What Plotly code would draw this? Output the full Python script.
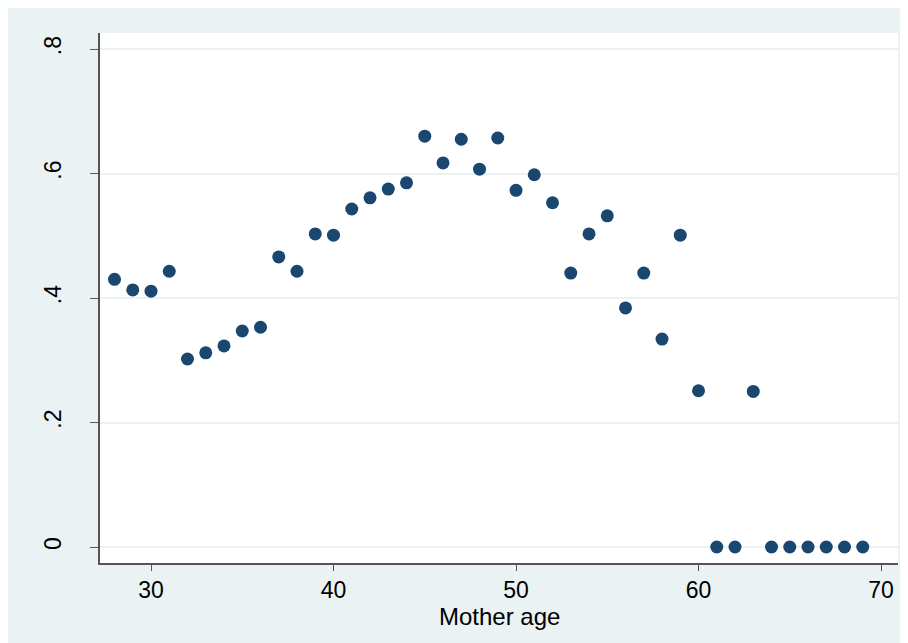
import plotly.graph_objects as go

mother_age = list(range(28, 70))
share = [0.430, 0.413, 0.411, 0.443, 0.302, 0.312, 0.323, 0.347, 0.353, 0.466,
         0.443, 0.503, 0.501, 0.543, 0.561, 0.575, 0.585, 0.660, 0.617, 0.655,
         0.607, 0.657, 0.573, 0.598, 0.553, 0.440, 0.503, 0.532, 0.384, 0.440,
         0.334, 0.501, 0.251, 0.0, 0.0, 0.25, 0.0, 0.0, 0.0, 0.0, 0.0, 0.0]
x_ticks = [30, 40, 50, 60, 70]
y_ticks = [0, 0.2, 0.4, 0.6, 0.8]
y_tick_labels = ["0", ".2", ".4", ".6", ".8"]
x_title = "Mother age"

BG = "#EAF2F3"
NAVY = "#1A476F"
FONT = "Liberation Sans, Arial, sans-serif"

fig = go.Figure(go.Scatter(
    x=mother_age, y=share, mode="markers",
    marker=dict(color=NAVY, size=13, line=dict(width=0)),
    showlegend=False,
))

fig.update_layout(
    width=900, height=635,
    paper_bgcolor=BG, plot_bgcolor="white",
    margin=dict(l=92, r=10, t=25, b=80),
    font=dict(family=FONT, size=23, color="black"),
    xaxis=dict(
        range=[27.205, 70.93], tickvals=x_ticks,
        showgrid=False, zeroline=False,
        showline=True, linecolor="#555555", linewidth=1.5,
        ticks="outside", ticklen=6, tickcolor="#555555", tickwidth=1,
        tickfont=dict(size=23),
    ),
    yaxis=dict(
        range=[-0.0257, 0.8257], tickvals=y_ticks, ticktext=y_tick_labels,
        tickangle=-90, ticklabelstandoff=20,
        showgrid=True, gridcolor=BG, gridwidth=1.5, zeroline=False,
        showline=True, linecolor="#555555", linewidth=1.5,
        ticks="outside", ticklen=8, tickcolor="#555555", tickwidth=1,
        tickfont=dict(size=23),
    ),
    annotations=[dict(
        text=x_title, xref="paper", yref="paper", x=0.5, y=-0.101,
        xanchor="center", yanchor="middle", showarrow=False,
        font=dict(size=24, family=FONT, color="black"),
    )],
)

fig.write_html("out.html")
